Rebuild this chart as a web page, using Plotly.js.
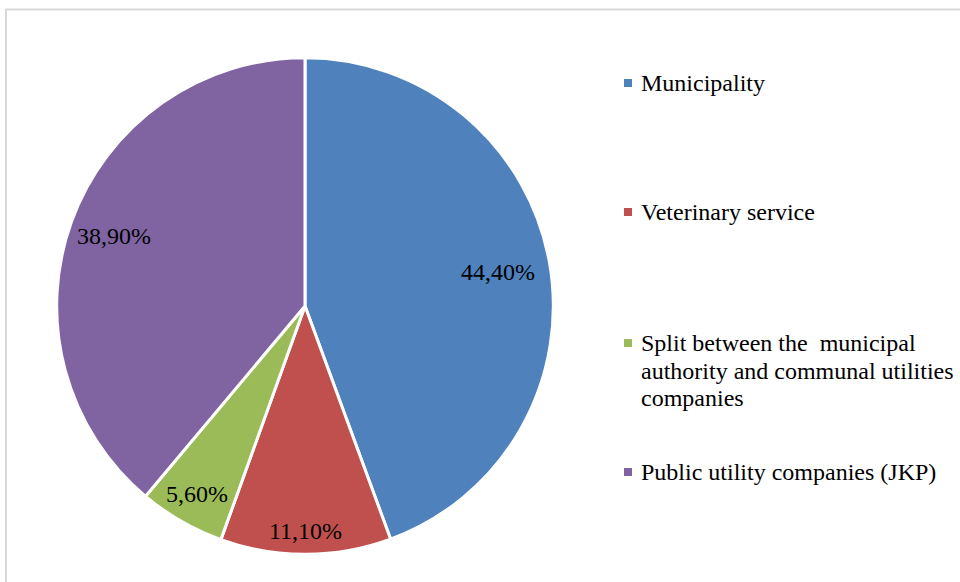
<!DOCTYPE html>
<html>
<head>
<meta charset="utf-8">
<script src="https://cdn.plot.ly/plotly-3.0.1.min.js"></script>
<style>html,body{margin:0;padding:0;background:#fff;}#chart{width:960px;height:582px;}</style>
</head>
<body>
<div id="chart"></div>
<script>
var categories = [
  "Municipality",
  "Veterinary service",
  "Split between the  municipal\nauthority and communal utilities\ncompanies",
  "Public utility companies (JKP)"
];
var values = [44.4, 11.1, 5.6, 38.9];
var valueLabels = ["44,40%", "11,10%", "5,60%", "38,90%"];
var colors = ["#4F81BD", "#C0504D", "#9BBB59", "#8064A2"];

// layout settings (positions, not data)
var legendY = [83, 212, 343, 472];
var labelRadius = [0.79, 0.905, 0.875, 0.82];

var W = 960, H = 582;
var fontFam = "Liberation Serif, Times New Roman, serif";
var pcx = 305, pcy = 306, R = 248.3;

var trace = {
  type: "pie",
  labels: categories.map(function(c){ return c.replace(/\n/g, " "); }),
  values: values,
  text: valueLabels,
  textinfo: "none",
  textposition: "none",
  sort: false,
  direction: "clockwise",
  rotation: 0,
  marker: {colors: colors, line: {color: "#fff", width: 3}},
  domain: {x: [(pcx - R)/W, (pcx + R)/W], y: [1 - (pcy + R)/H, 1 - (pcy - R)/H]},
  showlegend: false,
  hoverinfo: "label+text"
};

var shapes = [{
  type: "rect", xref: "paper", yref: "paper",
  x0: 6/W, x1: 1.02, y0: -0.02, y1: 1 - 9.5/H,
  line: {color: "#d9d9d9", width: 2}, fillcolor: "rgba(0,0,0,0)"
}];
var annotations = [];

// slice value labels at the mid-angle of each slice
var total = values.reduce(function(a, b){ return a + b; }, 0);
var cum = 0;
values.forEach(function(v, i){
  var mid = (cum + v/2) / total * 2 * Math.PI;
  cum += v;
  var r = R * labelRadius[i];
  var px = pcx + r * Math.sin(mid);
  var py = pcy - r * Math.cos(mid);
  annotations.push({
    xref: "paper", yref: "paper",
    x: px/W, y: 1 - py/H,
    xanchor: "center", yanchor: "middle",
    text: valueLabels[i], showarrow: false,
    font: {family: fontFam, size: 24, color: "#000"}
  });
});

var lineGap = 27.5;
categories.forEach(function(c, i){
  var cy = legendY[i];
  shapes.push({
    type: "rect", xref: "paper", yref: "paper",
    x0: 624/W, x1: 632/W, y0: 1 - (cy + 4)/H, y1: 1 - (cy - 4)/H,
    line: {width: 0}, fillcolor: colors[i]
  });
  c.split("\n").forEach(function(line, j){
    annotations.push({
      xref: "paper", yref: "paper",
      x: 639/W, y: 1 - (cy + j*lineGap)/H,
      xanchor: "left", yanchor: "middle",
      text: line, showarrow: false,
      font: {family: fontFam, size: 24, color: "#000"}
    });
  });
});

var layout = {
  width: W, height: H,
  margin: {l: 0, r: 0, t: 0, b: 0},
  paper_bgcolor: "#fff",
  showlegend: false,
  shapes: shapes,
  annotations: annotations
};
Plotly.newPlot("chart", [trace], layout, {displayModeBar: false, staticPlot: true});
</script>
</body>
</html>
